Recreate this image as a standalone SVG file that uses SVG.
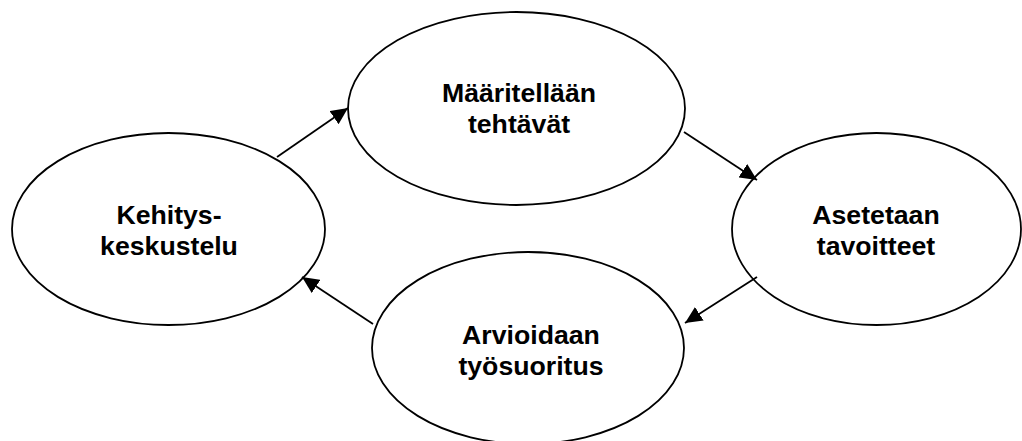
<svg xmlns="http://www.w3.org/2000/svg" width="1022" height="441" viewBox="0 0 1022 441">
  <style>
    .node ellipse { fill: #ffffff; stroke: #000000; stroke-width: 1.8; }
    .node text { font-family: "Liberation Sans", Arial, sans-serif; font-weight: bold; font-size: 26.67px; fill: #000000; text-anchor: middle; }
    .edge { stroke: #000000; stroke-width: 1.8; fill: none; marker-end: url(#arrow); }
  </style>
  <defs>
    <marker id="arrow" markerUnits="userSpaceOnUse" markerWidth="18" markerHeight="16" refX="17" refY="8" orient="auto">
      <path d="M0,0 L17,8 L0,16 Z" fill="#000000"/>
    </marker>
  </defs>
  <rect width="1022" height="441" fill="#ffffff"/>
  <g id="node-kehitys" class="node">
    <ellipse cx="168.5" cy="229" rx="156.5" ry="96"/>
    <text x="169" y="224">Kehitys-</text>
    <text x="169" y="255">keskustelu</text>
  </g>
  <g id="node-maaritellaan" class="node">
    <ellipse cx="516.5" cy="108.5" rx="168.5" ry="96.5"/>
    <text x="519" y="102">Määritellään</text>
    <text x="519" y="133">tehtävät</text>
  </g>
  <g id="node-asetetaan" class="node">
    <ellipse cx="876.5" cy="229" rx="144.5" ry="96"/>
    <text x="876" y="224">Asetetaan</text>
    <text x="876" y="255">tavoitteet</text>
  </g>
  <g id="node-arvioidaan" class="node">
    <ellipse cx="528" cy="348" rx="156" ry="96"/>
    <text x="531" y="344">Arvioidaan</text>
    <text x="531" y="375">työsuoritus</text>
  </g>
  <g id="connectors">
    <line class="edge" x1="277" y1="157" x2="348" y2="108"/>
    <line class="edge" x1="684" y1="132" x2="757" y2="180"/>
    <line class="edge" x1="757" y1="277" x2="685" y2="323"/>
    <line class="edge" x1="373" y1="324" x2="302" y2="277"/>
  </g>
</svg>
